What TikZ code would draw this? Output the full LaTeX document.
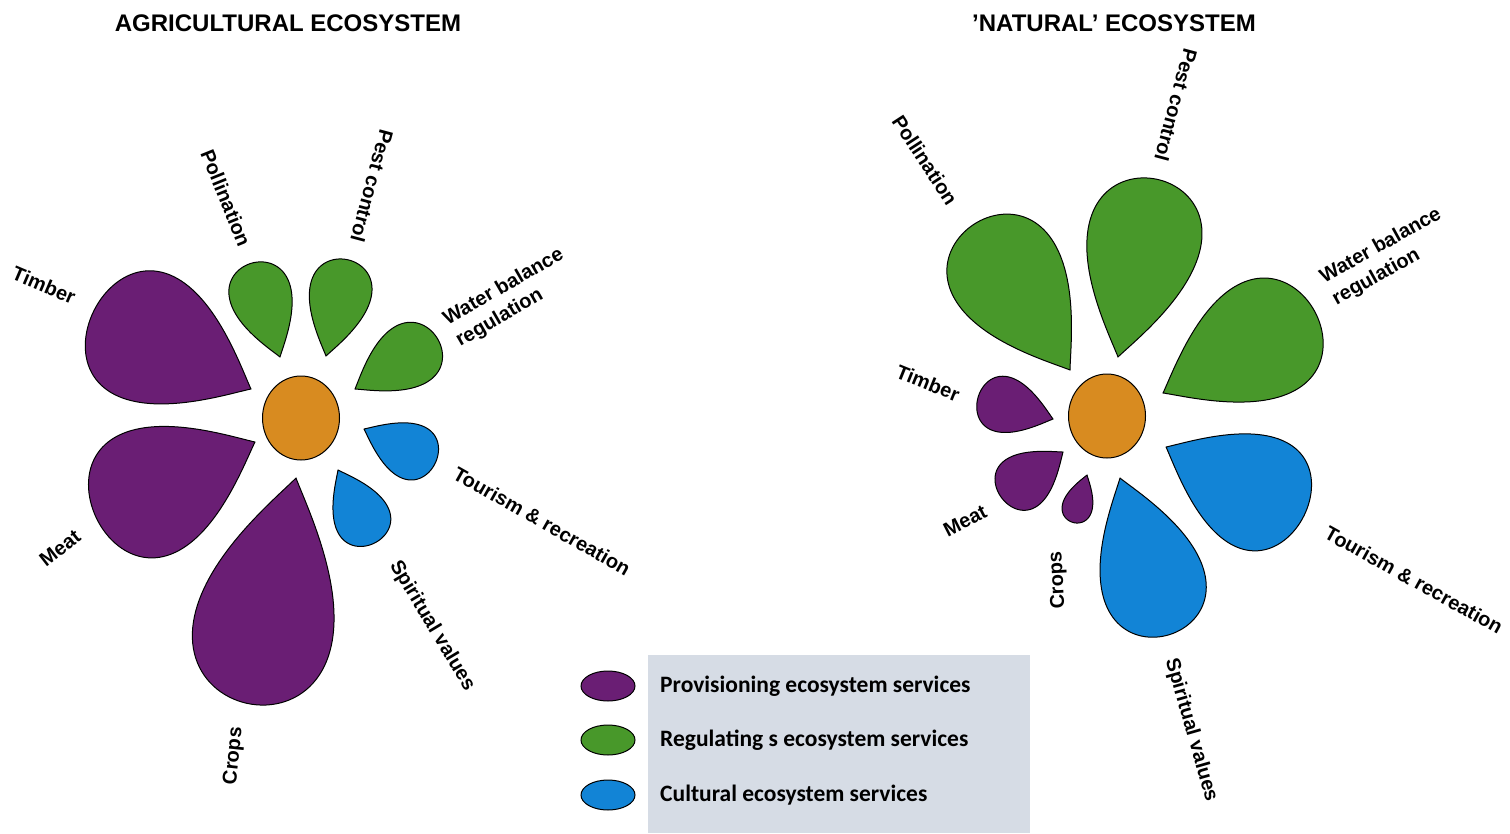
\documentclass[tikz,border=0pt]{standalone}
\usepackage{fontspec}
\setmainfont{Liberation Sans}
\newfontfamily\keyfont{Carlito}
\usetikzlibrary{calc,shapes.geometric}

\definecolor{purp}{RGB}{106,30,116}
\definecolor{leaf}{RGB}{72,152,42}
\definecolor{sky}{RGB}{18,132,214}
\definecolor{amber}{RGB}{216,139,32}
\definecolor{keybg}{RGB}{214,220,229}

\tikzset{
  petal/.style = {draw = black, line width = 1pt},
  core/.style = {ellipse, draw = black, line width = 1pt, fill = amber, minimum width = 77pt, minimum height = 84pt, inner sep = 0pt},
  lbl/.style = {font = \fontsize{20}{25}\selectfont\bfseries, inner sep = 0pt},
  title/.style = {font = \fontsize{24}{28}\selectfont\bfseries, inner sep = 0pt},
  key/.style = {ellipse, draw = black, line width = 1pt, minimum width = 54pt, minimum height = 30pt, inner sep = 0pt},
  keytext/.style = {anchor = west, font = \keyfont\fontsize{23.5}{28}\selectfont\bfseries, inner sep = 0pt}
}

% petal: colour, pointed tip, centre of round end, radius of round end
\newcommand{\petal}[4]{%
  \path[petal, fill = #1] let \p1 = ($(#3)-(#2)$), \n1 = {atan2(\y1,\x1)}, \n2 = {veclen(\x1,\y1)} in
    [shift = {(#2)}, rotate = \n1]
    plot[variable = \t, domain = 0.5:359.5, samples = 121]
      ({(\n2+#4pt)/2*(1-cos(\t))}, {#4pt/0.755*sin(\t)*abs(sin(\t/2))^1.1}) -- cycle;
}

\begin{document}
\begin{tikzpicture}[x = 1pt, y = -1pt]
\useasboundingbox (0,0) rectangle (1510,833);

% agricultural ecosystem
\node[title] (agtitle) at (288,23) {AGRICULTURAL ECOSYSTEM};
\node[core] (acore) at (301,418) {};

\petal{purp}{251,389}{153,340}{66}
\petal{purp}{255,442}{155,490}{65}
\petal{purp}{296,478}{262,635}{70}
\petal{leaf}{280,357}{260,293}{31}
\petal{leaf}{326,356}{341,290}{31}
\petal{leaf}{355,389}{410,355}{32}
\petal{sky}{364,429}{410,451}{28}
\petal{sky}{338,470}{362,518}{28}

\node[lbl, rotate = -23] (atimber) at (44,285) {Timber};
\node[lbl, rotate = -68] (apoll) at (226,198) {Pollination};
\node[lbl, rotate = -105] (apest) at (372,186) {Pest control};
\node[lbl, rotate = 30, align = left] (awater) at (510,298) {Water balance\\regulation};
\node[lbl, rotate = -29.5] (atour) at (542,521) {Tourism \& recreation};
\node[lbl, rotate = -59] (aspirit) at (432,626) {Spiritual values};
\node[lbl, rotate = 84] (acrops) at (234,756) {Crops};
\node[lbl, rotate = 38] (ameat) at (60,548) {Meat};

% natural ecosystem
\node[title] (nattitle) at (1114,23) {'NATURAL' ECOSYSTEM};
\node[core] (ncore) at (1107,416) {};

\petal{purp}{1053,419}{1005,405}{28}
\petal{purp}{1063,452}{1024,481}{28}
\petal{purp}{1087,475}{1077,508}{15}
\petal{leaf}{1070,370}{1005,272}{57}
\petal{leaf}{1118,357}{1145,235}{57}
\petal{leaf}{1163,393}{1262,340}{60}
\petal{sky}{1166,447}{1252,490}{58}
\petal{sky}{1120,478}{1154,585}{52}

\node[lbl, rotate = -22] (ntimber) at (928,383) {Timber};
\node[lbl, rotate = -57] (npoll) at (925,160) {Pollination};
\node[lbl, rotate = -105] (npest) at (1176,105) {Pest control};
\node[lbl, rotate = 29, align = left] (nwater) at (1387,257) {Water balance\\regulation};
\node[lbl, rotate = -29] (ntour) at (1414,580) {Tourism \& recreation};
\node[lbl, rotate = -74] (nspirit) at (1191,730) {Spiritual values};
\node[lbl, rotate = 93] (ncrops) at (1058,580) {Crops};
\node[lbl, rotate = 27] (nmeat) at (965,521) {Meat};

% key
\fill[keybg] (648,655) rectangle (1030,833);
\node[key, fill = purp] (kprov) at (608,686) {};
\node[key, fill = leaf] (kregu) at (608,740) {};
\node[key, fill = sky] (kcult) at (608,795) {};
\node[keytext] (tprov) at (660,686) {Provisioning ecosystem services};
\node[keytext] (tregu) at (660,740) {Regulating s ecosystem services};
\node[keytext] (tcult) at (660,795) {Cultural ecosystem services};
\end{tikzpicture}
\end{document}
